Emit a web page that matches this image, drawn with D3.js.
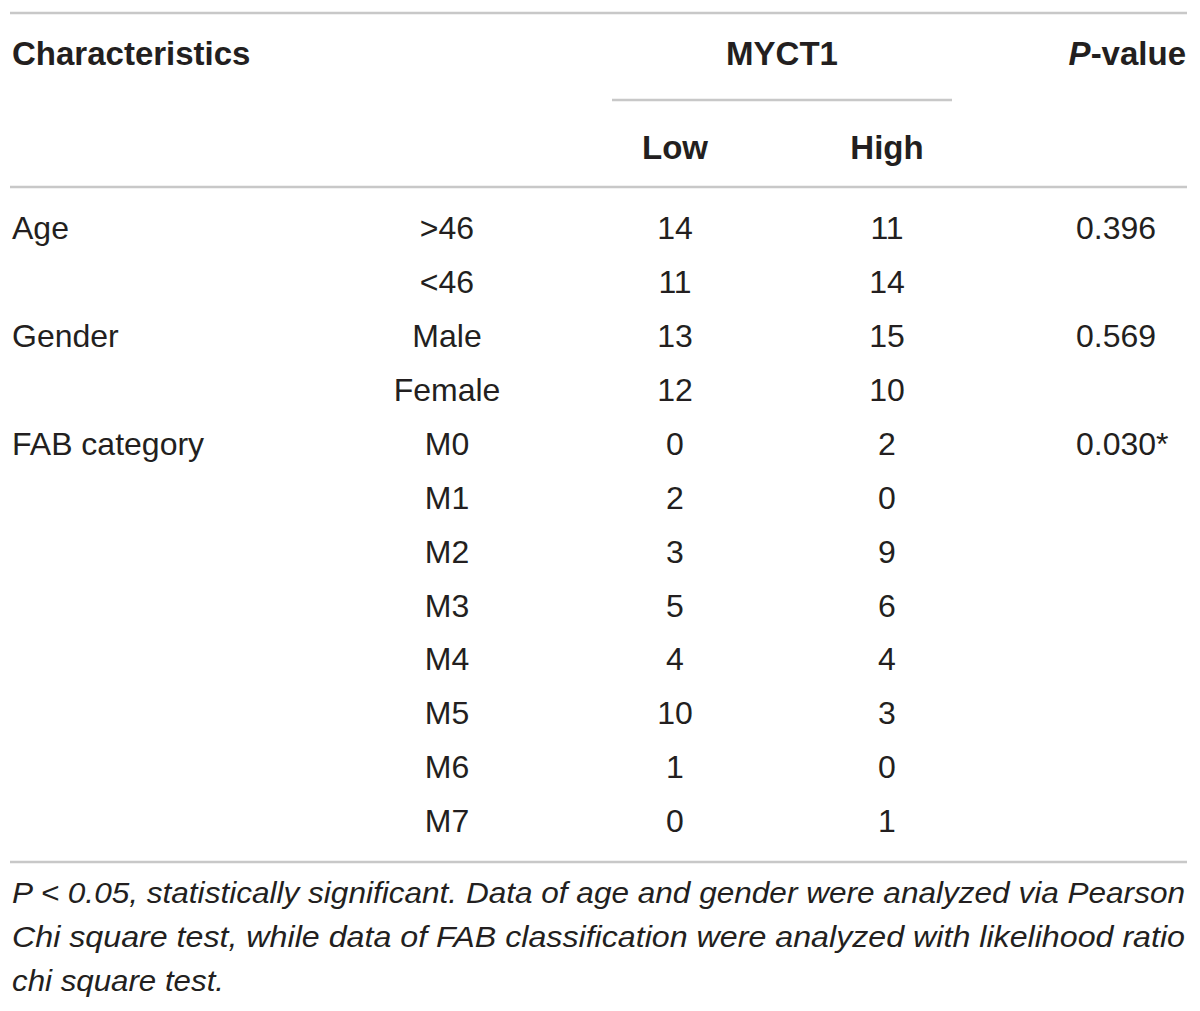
<!DOCTYPE html>
<html>
<head>
<meta charset="utf-8">
<script src="https://cdn.jsdelivr.net/npm/d3@7"></script>
<style>
  body { margin: 0; background: #fff; }
  svg text { font-family: "Liberation Sans", Arial, Helvetica, sans-serif; fill: #231f20; }
  .head { font-weight: bold; font-size: 33px; }
  .cell { font-size: 32px; }
  .note { font-style: italic; font-size: 29px; }
</style>
</head>
<body>
<svg id="table"></svg>
<script>
// table contents
const characteristics = ["Age", "", "Gender", "", "FAB category", "", "", "", "", "", "", ""];
const subgroups = [">46", "<46", "Male", "Female", "M0", "M1", "M2", "M3", "M4", "M5", "M6", "M7"];
const lowCounts = [14, 11, 13, 12, 0, 2, 3, 5, 4, 10, 1, 0];
const highCounts = [11, 14, 15, 10, 2, 0, 9, 6, 4, 3, 0, 1];
const pValues = ["0.396", "", "0.569", "", "0.030*", "", "", "", "", "", "", ""];
const noteLines = [
    "P < 0.05, statistically significant. Data of age and gender were analyzed via Pearson",
    "Chi square test, while data of FAB classification were analyzed with likelihood ratio",
    "chi square test."
];
const noteWidths = [1173, 1173, 212];

const width = 1200, height = 1011;
const lineColor = "#c8c8c8";

const svg = d3.select("#table")
    .attr("width", width)
    .attr("height", height);

// column positions
const colX = {
    name: 12,
    sub: 447,
    low: 675,
    high: 887,
    p: 1076
};

const rowY = d3.scalePoint()
    .domain(d3.range(subgroups.length))
    .range([228, 821]);

// rules
const rule = (x1, x2, y) => svg.append("line")
    .attr("x1", x1).attr("x2", x2)
    .attr("y1", y).attr("y2", y)
    .attr("stroke", lineColor)
    .attr("stroke-width", 2.5);

rule(10, 1187, 13);
rule(612, 952, 100);
rule(10, 1187, 187);
rule(10, 1187, 862);

// header
const header = svg.append("g").attr("class", "head");
header.append("text").attr("x", colX.name).attr("y", 53).attr("dy", "0.35em").text("Characteristics");
header.append("text").attr("x", (colX.low + colX.high) / 2 + 1).attr("y", 53).attr("dy", "0.35em")
    .attr("text-anchor", "middle").text("MYCT1");
const pHead = header.append("text").attr("x", 1186).attr("y", 53).attr("dy", "0.35em")
    .attr("text-anchor", "end");
pHead.append("tspan").attr("font-style", "italic").text("P");
pHead.append("tspan").text("-value");
header.append("text").attr("x", colX.low).attr("y", 147).attr("dy", "0.35em")
    .attr("text-anchor", "middle").text("Low");
header.append("text").attr("x", colX.high).attr("y", 147).attr("dy", "0.35em")
    .attr("text-anchor", "middle").text("High");

// body
const rows = svg.append("g").attr("class", "cell")
    .selectAll("g")
    .data(subgroups.map((s, i) => ({
        name: characteristics[i], sub: s, low: lowCounts[i], high: highCounts[i], p: pValues[i], i
    })))
    .join("g")
    .attr("transform", d => `translate(0,${rowY(d.i)})`);

rows.append("text").attr("x", colX.name).attr("dy", "0.35em").text(d => d.name);
rows.append("text").attr("x", colX.sub).attr("dy", "0.35em").attr("text-anchor", "middle").text(d => d.sub);
rows.append("text").attr("x", colX.low).attr("dy", "0.35em").attr("text-anchor", "middle").text(d => d.low);
rows.append("text").attr("x", colX.high).attr("dy", "0.35em").attr("text-anchor", "middle").text(d => d.high);
rows.append("text").attr("x", colX.p).attr("dy", "0.35em").text(d => d.p);

// footnote
svg.append("g").attr("class", "note")
    .selectAll("text")
    .data(noteLines)
    .join("text")
    .attr("x", 12)
    .attr("y", (d, i) => 893 + i * 44)
    .attr("dy", "0.35em")
    .attr("textLength", (d, i) => noteWidths[i])
    .attr("lengthAdjust", "spacingAndGlyphs")
    .text(d => d);
</script>
</body>
</html>
